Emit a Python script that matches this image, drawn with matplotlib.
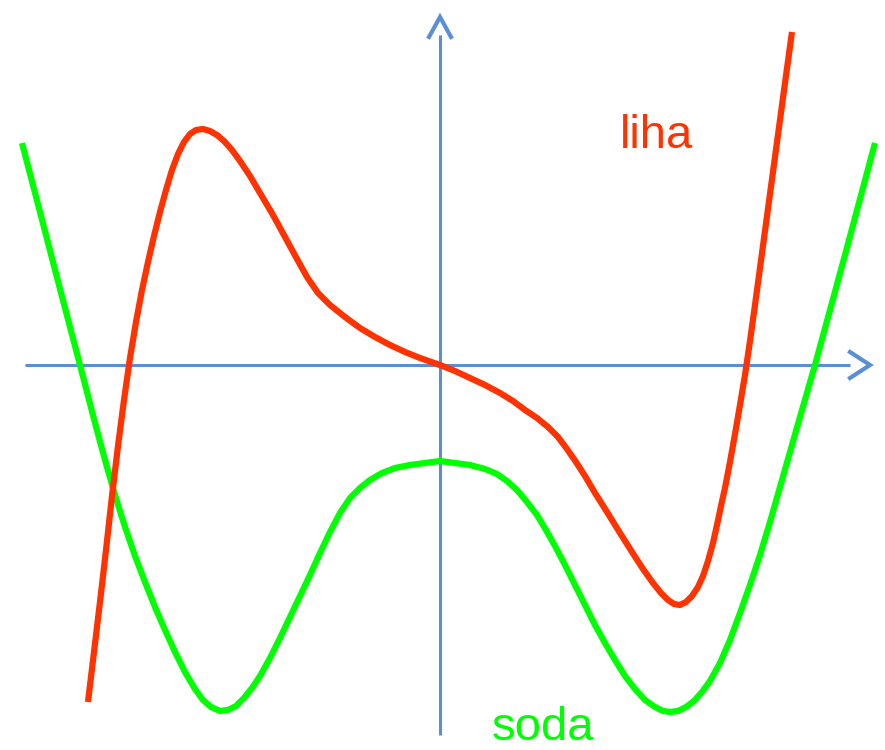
import numpy as np
import matplotlib
matplotlib.use("Agg")
import matplotlib.pyplot as plt

# points, in pixel-ish units with the origin at the axes cross
ORIGEN = (440, 365)

liha_px = [88, 94, 100, 106, 112, 118, 124, 130, 136, 142, 148, 154, 160, 166, 172,
           178, 184, 190, 196, 203, 210, 217, 224, 232, 240, 250, 260, 273, 285, 297,
           307, 318, 330, 345, 360, 375, 390, 405, 420, 440, 455, 470, 485, 500, 513,
           525, 537, 548, 558, 567, 576, 585, 595, 607, 620, 632, 643, 653, 661, 668,
           674, 680, 686, 692, 698, 703, 708, 713, 717, 721, 725, 730, 735, 740, 745,
           750, 755, 760, 765, 770, 775, 780, 785, 792]
liha_py = [702, 652, 602, 550, 496, 446, 400, 358, 322, 290, 262, 236, 212, 190, 170,
           154, 142, 134, 130, 129, 131, 135, 141, 150, 161, 176, 193, 215, 237, 259,
           277, 293, 305, 317, 328, 337, 345, 352, 358, 365, 371, 378, 385, 393, 401,
           410, 418, 427, 437, 449, 462, 476, 493, 512, 533, 552, 569, 583, 593, 600,
           604, 605, 602, 596, 587, 576, 561, 543, 525, 506, 488, 462, 434, 405, 375,
           341, 305, 268, 231, 194, 157, 120, 83, 32]

soda_px = [22, 40, 60, 80, 95, 105, 115, 125, 135, 145, 155, 165, 175, 185, 195,
           203, 211, 220, 228, 236, 244, 252, 260, 270, 280, 290, 300, 310, 320, 330,
           340, 350, 360, 370, 382, 395, 410, 425, 440, 455, 470, 485, 497, 507, 517,
           527, 537, 546, 555, 565, 575, 585, 595, 605, 615, 625, 635, 645, 655, 663,
           670, 678, 686, 694, 702, 710, 720, 730, 740, 750, 760, 770, 780, 790, 800,
           815, 830, 845, 860, 875]
soda_py = [143, 212, 289, 365, 423, 460, 495, 527, 556, 582, 607, 630, 652, 672, 689,
           700, 707, 711, 710, 706, 698, 688, 676, 658, 638, 617, 596, 575, 553, 532,
           513, 498, 488, 480, 473, 468, 465, 463, 461, 463, 465, 469, 474, 481, 490,
           502, 515, 530, 546, 565, 585, 605, 625, 643, 660, 676, 689, 700, 707, 711,
           712, 711, 707, 701, 692, 681, 663, 640, 613, 585, 555, 522, 487, 452, 417,
           365, 310, 255, 199, 143]

etiquetas = ["liha", "soda"]


def a_cartesiano(px, py):
    # pasar de pixeles a coordenadas con origen en el cruce de los ejes
    return np.array(px) - ORIGEN[0], ORIGEN[1] - np.array(py)


fig = plt.figure(figsize=(8.85, 7.5), dpi=100)
ax = fig.add_axes([0, 0, 1, 1])
ax.set_xlim(-440, 445)
ax.set_ylim(-385, 365)
ax.axis("off")

azul = "#5A8FD8"
rojo = "#FF3300"
verde = "#00FF00"

# ejes con flechas abiertas
ax.plot([-415, 410], [0, 0], color=azul, lw=2.2, solid_capstyle="butt")
ax.plot([410, 430, 410], [13, 0, -13], color=azul, lw=3, solid_joinstyle="miter")
ax.plot([0, 0], [-370, 330], color=azul, lw=2.2, solid_capstyle="butt")
ax.plot([-11, 0, 11], [328, 348, 328], color=azul, lw=3, solid_joinstyle="miter")

x, y = a_cartesiano(soda_px, soda_py)
ax.plot(x, y, color=verde, lw=4.5, solid_joinstyle="round", solid_capstyle="butt")
x, y = a_cartesiano(liha_px, liha_py)
ax.plot(x, y, color=rojo, lw=4.5, solid_joinstyle="round", solid_capstyle="butt")

ax.text(620 - ORIGEN[0], ORIGEN[1] - 148, etiquetas[0], color=rojo, fontsize=34,
        family="Liberation Sans", va="baseline", ha="left")
ax.text(492 - ORIGEN[0], ORIGEN[1] - 740, etiquetas[1], color=verde, fontsize=34,
        family="Liberation Sans", va="baseline", ha="left")

fig.savefig("out.png", dpi=100)
